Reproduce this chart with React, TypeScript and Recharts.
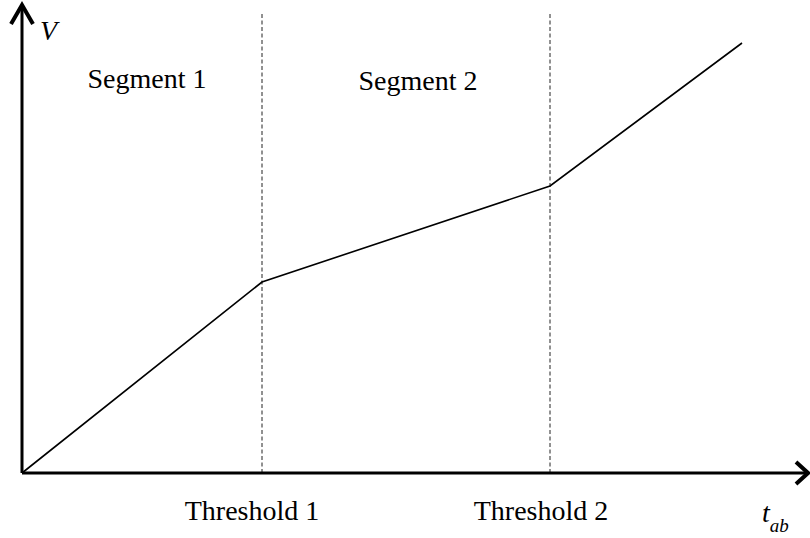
import { LineChart, Line, XAxis, YAxis, ReferenceLine, ReferenceDot } from 'recharts';

// piecewise curve (x in px from origin, y in px up from axis)
const tab = [0, 240, 528, 720];
const volume = [0, 191, 287, 430];

const thresholds = [240, 528];
const thresholdLabels = ['Threshold 1', 'Threshold 2'];
const segmentLabels = ['Segment 1', 'Segment 2'];

const X_MAX = 786;
const Y_MAX = 468;

const data = tab.map((t, i) => ({ x: t, v: volume[i] }));

const serif = '"Liberation Serif", "Times New Roman", serif';

const TextMark = (text: string, anchor: string = 'middle', italic = false) => (props: any) => (
  <text
    x={props.cx}
    y={props.cy}
    textAnchor={anchor}
    fontFamily={serif}
    fontSize={28}
    fontStyle={italic ? 'italic' : 'normal'}
    fill="#000"
  >
    {text}
  </text>
);

const TabLabel = (props: any) => (
  <text x={props.cx} y={props.cy} fontFamily={serif} fontStyle="italic" fill="#000">
    <tspan fontSize={28}>t</tspan>
    <tspan fontSize={19} dy={10}>ab</tspan>
  </text>
);

const ArrowRight = (props: any) => (
  <polyline
    points={`${props.cx - 12},${props.cy - 11} ${props.cx},${props.cy} ${props.cx - 12},${props.cy + 11}`}
    fill="none"
    stroke="#000"
    strokeWidth={4}
  />
);

const ArrowUp = (props: any) => (
  <polyline
    points={`${props.cx - 11},${props.cy + 19} ${props.cx},${props.cy} ${props.cx + 11},${props.cy + 19}`}
    fill="none"
    stroke="#000"
    strokeWidth={4}
  />
);

const App = () => {
  return (
    <div style={{ position: 'absolute', left: 0, top: 0, background: '#fff' }}>
      <LineChart
        width={810}
        height={538}
        data={data}
        margin={{ top: 5, right: 2, left: 22, bottom: 65 }}
      >
        <XAxis dataKey="x" type="number" domain={[0, X_MAX]} hide />
        <YAxis type="number" domain={[0, Y_MAX]} hide />

        {thresholds.map((t) => (
          <ReferenceLine
            key={t}
            segment={[{ x: t, y: 0 }, { x: t, y: 459 }]}
            stroke="#222"
            strokeWidth={1}
            strokeDasharray="4 2.5"
          />
        ))}

        {/* axes */}
        <ReferenceLine segment={[{ x: 0, y: 0 }, { x: X_MAX, y: 0 }]} stroke="#000" strokeWidth={3} ifOverflow="visible" />
        <ReferenceLine segment={[{ x: 0, y: 0 }, { x: 0, y: Y_MAX }]} stroke="#000" strokeWidth={3} ifOverflow="visible" />
        <ReferenceDot x={X_MAX} y={0} ifOverflow="visible" shape={ArrowRight} />
        <ReferenceDot x={0} y={Y_MAX} ifOverflow="visible" shape={ArrowUp} />

        <Line
          type="linear"
          dataKey="v"
          stroke="#000"
          strokeWidth={1.6}
          dot={false}
          isAnimationActive={false}
        />

        <ReferenceDot x={125} y={385} ifOverflow="visible" shape={TextMark(segmentLabels[0])} />
        <ReferenceDot x={396} y={383} ifOverflow="visible" shape={TextMark(segmentLabels[1])} />
        <ReferenceDot x={230} y={-47} ifOverflow="visible" shape={TextMark(thresholdLabels[0])} />
        <ReferenceDot x={519} y={-47} ifOverflow="visible" shape={TextMark(thresholdLabels[1])} />
        <ReferenceDot x={18} y={433} ifOverflow="visible" shape={TextMark('V', 'start', true)} />
        <ReferenceDot x={740} y={-49} ifOverflow="visible" shape={TabLabel} />
      </LineChart>
    </div>
  );
};

export default App;
